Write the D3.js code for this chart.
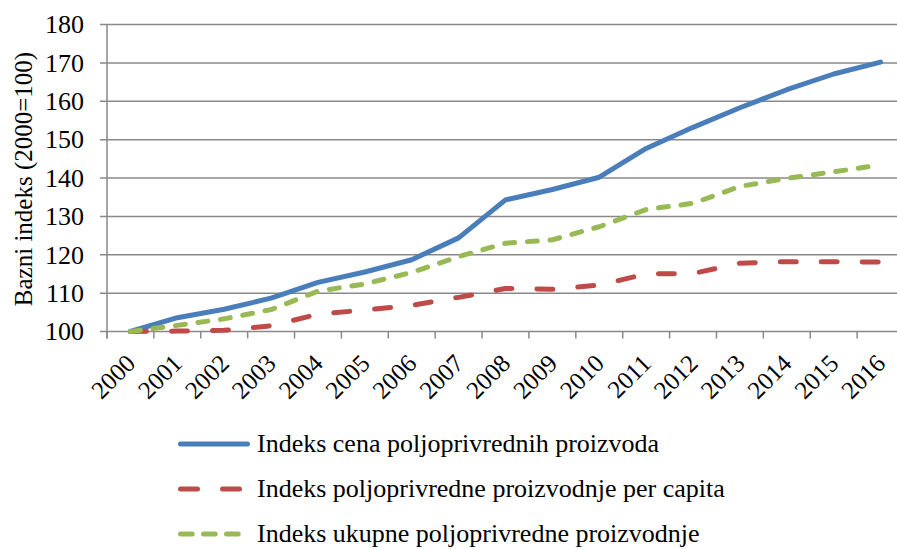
<!DOCTYPE html>
<html>
<head>
<meta charset="utf-8">
<script src="https://cdn.jsdelivr.net/npm/d3@7"></script>
<style>
  body { margin: 0; background: #fff; }
  text { font-family: "Liberation Serif", "Times New Roman", serif; fill: #000; }
</style>
</head>
<body>
<script>
// data
var years = ["2000","2001","2002","2003","2004","2005","2006","2007","2008",
             "2009","2010","2011","2012","2013","2014","2015","2016"];
var cena = [100, 103.6, 105.8, 108.7, 112.8, 115.5, 118.7, 124.4, 134.3,
            137.0, 140.2, 147.7, 153.2, 158.3, 163.0, 167.1, 170.2];
var perCapita = [100, 100.1, 100.3, 101.5, 104.5, 105.6, 106.8, 108.9, 111.2,
                 111.0, 112.1, 115.0, 115.1, 117.8, 118.2, 118.2, 118.1];
var ukupna = [100, 101.6, 103.3, 105.7, 110.5, 112.4, 115.4, 119.5, 123.0,
              123.9, 127.3, 131.8, 133.4, 137.8, 139.9, 141.6, 143.4];
var yTicks = [100, 110, 120, 130, 140, 150, 160, 170, 180];
var seriesNames = ["Indeks cena poljoprivrednih proizvoda",
                   "Indeks poljoprivredne proizvodnje per capita",
                   "Indeks ukupne poljoprivredne proizvodnje"];

var series = [
  {name: seriesNames[0], values: cena, color: "#4a7ebb", dash: null, legendDash: null},
  {name: seriesNames[1], values: perCapita, color: "#be4b48", dash: "16,25", legendDash: "17,25"},
  {name: seriesNames[2], values: ukupna, color: "#98b954", dash: "10,12.7", legendDash: "11.7,11.3"}
];

var W = 897, H = 549;
var plotLeft = 107, plotRight = 904, plotTop = 24.5, plotBottom = 331.5;

var svg = d3.select("body").append("svg")
    .attr("width", W)
    .attr("height", H);

var x = d3.scaleBand().domain(years).range([plotLeft, plotRight]).padding(0);
var y = d3.scaleLinear().domain([100, 180]).range([plotBottom, plotTop]);

// gridlines
svg.append("g")
  .selectAll("line")
  .data(yTicks)
  .enter().append("line")
    .attr("x1", plotLeft - 7)
    .attr("x2", plotRight)
    .attr("y1", function(d) { return y(d); })
    .attr("y2", function(d) { return y(d); })
    .attr("stroke", "#898989")
    .attr("stroke-width", 1.5);

// y axis line
svg.append("line")
  .attr("x1", plotLeft).attr("x2", plotLeft)
  .attr("y1", plotTop).attr("y2", plotBottom + 7)
  .attr("stroke", "#898989")
  .attr("stroke-width", 1.5);

// y tick labels
svg.append("g")
  .selectAll("text")
  .data(yTicks)
  .enter().append("text")
    .attr("x", 84)
    .attr("y", function(d) { return y(d); })
    .attr("dy", "0.34em")
    .attr("text-anchor", "end")
    .style("font-size", "26px")
    .text(function(d) { return d; });

// x tick marks at category boundaries
var xTickPos = years.map(function(d) { return x(d); });
svg.append("g")
  .selectAll("line")
  .data(xTickPos)
  .enter().append("line")
    .attr("x1", function(d) { return d; })
    .attr("x2", function(d) { return d; })
    .attr("y1", plotBottom)
    .attr("y2", plotBottom + 7)
    .attr("stroke", "#898989")
    .attr("stroke-width", 1.5);

// x labels, rotated
svg.append("g")
  .selectAll("text")
  .data(years)
  .enter().append("text")
    .attr("transform", function(d) {
      return "translate(" + (x(d) + x.bandwidth() / 2 - 6) + "," + (plotBottom + 21) + ") rotate(-45)";
    })
    .attr("text-anchor", "end")
    .attr("dy", "0.7em")
    .style("font-size", "25px")
    .text(function(d) { return d; });

// y axis title
svg.append("text")
  .attr("transform", "translate(32," + ((plotTop + plotBottom) / 2 + 1) + ") rotate(-90)")
  .attr("text-anchor", "middle")
  .style("font-size", "25px")
  .text("Bazni indeks (2000=100)");

// lines
var line = d3.line()
  .x(function(d, i) { return x(years[i]) + x.bandwidth() / 2; })
  .y(function(d) { return y(d); });

series.forEach(function(s) {
  svg.append("path")
    .datum(s.values)
    .attr("d", line)
    .attr("fill", "none")
    .attr("stroke", s.color)
    .attr("stroke-width", 5)
    .attr("stroke-linecap", "round")
    .attr("stroke-linejoin", "round")
    .attr("stroke-dasharray", s.dash);
});

// legend
var legend = svg.append("g");
series.forEach(function(s, i) {
  var ly = 444 + i * 45;
  legend.append("line")
    .attr("x1", 180.5).attr("x2", 247.5)
    .attr("y1", ly).attr("y2", ly)
    .attr("stroke", s.color)
    .attr("stroke-width", 5)
    .attr("stroke-linecap", "round")
    .attr("stroke-dasharray", s.legendDash);
  legend.append("text")
    .attr("x", 257)
    .attr("y", ly)
    .attr("dy", "0.3em")
    .style("font-size", "26px")
    .text(s.name);
});
</script>
</body>
</html>
